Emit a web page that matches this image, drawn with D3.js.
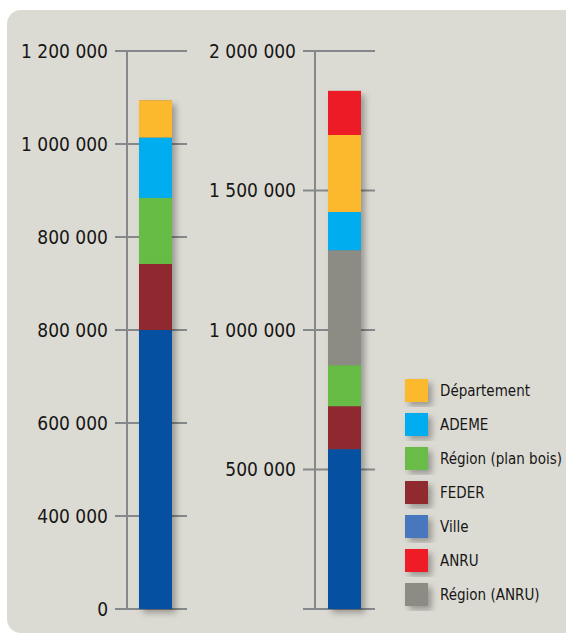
<!doctype html>
<html>
<head>
<meta charset="utf-8">
<script src="https://d3js.org/d3.v7.min.js"></script>
<style>
  body { margin: 0; background: #fff; }
  text { font-family: "Liberation Sans Narrow", "DejaVu Sans Condensed", "Open Sans", sans-serif; fill: #161616; }
</style>
</head>
<body>
<script>
// two stacked bars, each with its own scale
const seriesNames = ["Ville", "FEDER", "Région (plan bois)", "Région (ANRU)", "ADEME", "Département", "ANRU"];
const leftValues  = [600000, 142000, 142000, 0, 130000, 80000, 0];
const rightValues = [573000, 154000, 147000, 412000, 137000, 276000, 158000];

const leftTicks  = [0, 200000, 400000, 600000, 800000, 1000000, 1200000];
const leftLabels = ["0", "400 000", "600 000", "800 000", "800 000", "1 000 000", "1 200 000"];
const rightTicks  = [0, 500000, 1000000, 1500000, 2000000];
const rightLabels = ["", "500 000", "1 000 000", "1 500 000", "2 000 000"];

const legendNames = ["Département", "ADEME", "Région (plan bois)", "FEDER", "Ville", "ANRU", "Région (ANRU)"];
const colors = {
  "Ville": "#0650a2",
  "FEDER": "#8f292f",
  "Région (plan bois)": "#67bc46",
  "Région (ANRU)": "#8c8c84",
  "ADEME": "#00aeef",
  "Département": "#fdb92d",
  "ANRU": "#ed1b26"
};
const legendColors = Object.assign({}, colors, {"Ville": "#4a77bd"});

const w = 566, h = 635;
const svg = d3.select("body").append("svg").attr("width", w).attr("height", h);

const defs = svg.append("defs");
const f = defs.append("filter").attr("id", "shadow").attr("x", "-30%").attr("y", "-10%").attr("width", "180%").attr("height", "130%");
f.append("feDropShadow").attr("dx", 4).attr("dy", 4).attr("stdDeviation", 3)
  .attr("flood-color", "#000").attr("flood-opacity", 0.3);

// panel
svg.append("rect").attr("x", 7).attr("y", 10).attr("width", 600).attr("height", 623)
  .attr("rx", 14).attr("fill", "#dcdbd3");

const y0 = 609;
const yLeft = d3.scaleLinear().domain([0, 1200000]).range([y0, 51]);
const yRight = d3.scaleLinear().domain([0, 2000000]).range([y0, 51]);

function drawPanel(axisX, scale, ticks, labels, values, barX) {
  const g = svg.append("g");
  g.append("line").attr("x1", axisX).attr("x2", axisX)
    .attr("y1", scale(ticks[ticks.length - 1])).attr("y2", y0)
    .attr("stroke", "#85888a").attr("stroke-width", 2);

  g.selectAll(".tick").data(ticks).enter().append("line")
    .attr("x1", axisX - 12).attr("x2", axisX + 60)
    .attr("y1", d => scale(d)).attr("y2", d => scale(d))
    .attr("stroke", "#85888a").attr("stroke-width", 2);

  g.selectAll(".lbl").data(ticks).enter().append("text")
    .attr("x", axisX - 19).attr("y", d => scale(d))
    .attr("dy", "0.35em").attr("text-anchor", "end")
    .attr("font-size", 19)
    .text((d, i) => labels[i]);

  let acc = 0;
  const segs = [];
  values.forEach((v, i) => {
    if (v > 0) { segs.push({name: seriesNames[i], a: acc, b: acc + v}); acc += v; }
  });
  const bar = g.append("g");
  bar.append("rect").attr("x", barX).attr("width", 33)
    .attr("y", scale(acc)).attr("height", scale(0) - scale(acc))
    .attr("fill", "#777").attr("filter", "url(#shadow)");
  bar.selectAll(".seg").data(segs).enter().append("rect")
    .attr("x", barX).attr("width", 33)
    .attr("y", d => scale(d.b)).attr("height", d => scale(d.a) - scale(d.b))
    .attr("fill", d => colors[d.name]);
}

drawPanel(127, yLeft, leftTicks, leftLabels, leftValues, 139);
drawPanel(315, yRight, rightTicks, rightLabels, rightValues, 328);

// legend
const lg = svg.append("g").attr("transform", "translate(405,379)");
const item = lg.selectAll(".item").data(legendNames).enter().append("g")
  .attr("transform", (d, i) => `translate(0,${i * 34})`);
item.append("rect").attr("width", 23).attr("height", 23)
  .attr("fill", d => legendColors[d]).attr("filter", "url(#shadow)");
item.append("text").attr("x", 35).attr("y", 12).attr("dy", "0.35em")
  .attr("font-size", 15).text(d => d);
</script>
</body>
</html>
